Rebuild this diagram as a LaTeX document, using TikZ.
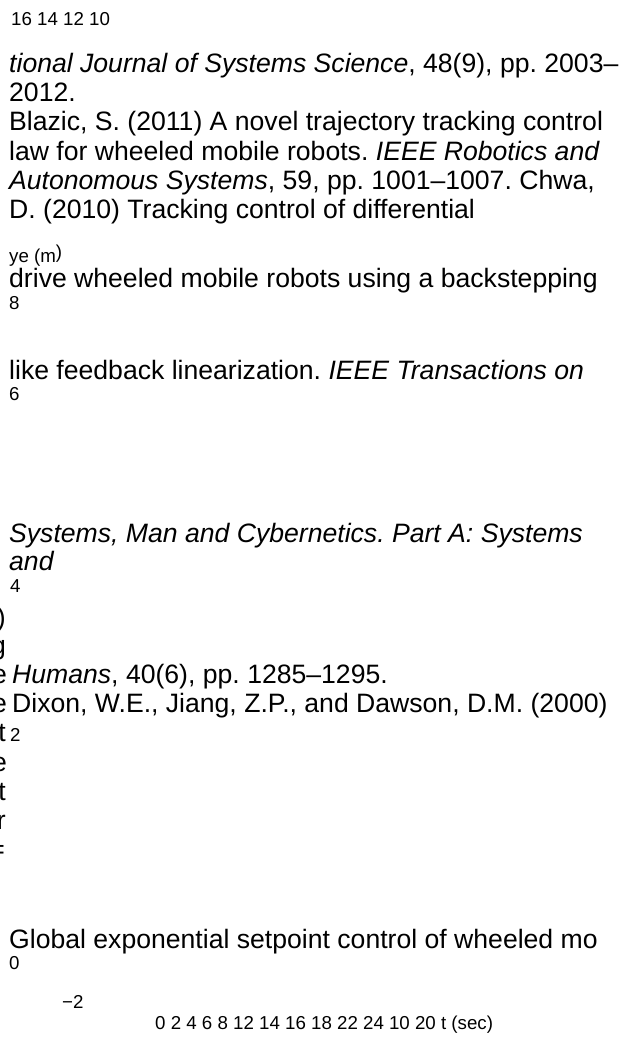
\documentclass[tikz,border=0pt]{standalone}
\usepackage{fontspec}
\setmainfont{Liberation Sans}
\frenchspacing
\begin{document}
\begin{tikzpicture}[x=1pt,y=-1pt,
  txt/.style={inner sep=0pt, anchor=base west, font=\fontsize{26.6}{30}\selectfont},
  sm/.style={inner sep=0pt, anchor=base west, font=\fontsize{18.7}{22}\selectfont},
  cut/.style={inner sep=0pt, anchor=base east, font=\fontsize{26.6}{30}\selectfont}]
\useasboundingbox (0,0) rectangle (620,1046);
\node[sm] (ytop) at (11,26) {16 14 12 10};
\node[txt] (l1) at (9,73) {\textit{tional Journal of Systems Science}, 48(9), pp. 2003--};
\node[txt] (l2) at (9,102) {2012.};
\node[txt] (l3) at (9,131) {Blazic, S. (2011) A novel trajectory tracking control};
\node[txt] (l4) at (9,160) {law for wheeled mobile robots. \textit{IEEE Robotics and}};
\node[txt] (l5) at (9,189) {\textit{Autonomous Systems}, 59, pp. 1001--1007. Chwa,};
\node[txt] (l6) at (9,218) {D. (2010) Tracking control of differential};
\node[sm] (ylab) at (9,262) {ye (m\raisebox{3.5pt}{)}};
\node[txt] (l7) at (9,287) {drive wheeled mobile robots using a backstepping};
\node[sm] (y8) at (9,309) {8};
\node[txt] (l8) at (9,379) {like feedback linearization. \textit{IEEE Transactions on}};
\node[sm] (y6) at (9,400) {6};
\node[txt] (l9) at (9,542) {\textit{Systems, Man and Cybernetics. Part A: Systems}};
\node[txt] (l10) at (9,570) {\textit{and}};
\node[sm] (y4) at (10,592) {4};
\node[cut] (c1) at (6,626) {)};
\node[cut] (c2) at (6,654) {g};
\node[cut] (c3) at (7,683) {e};
\node[txt] (l11) at (12,683) {\textit{Humans}, 40(6), pp. 1285--1295.};
\node[cut] (c4) at (7,712) {e};
\node[txt] (l12) at (12,712) {Dixon, W.E., Jiang, Z.P., and Dawson, D.M. (2000)};
\node[cut] (c5) at (6,741) {t};
\node[sm] (y2) at (10,741) {2};
\node[cut] (c6) at (7,771) {e};
\node[cut] (c7) at (6,800) {t};
\node[cut] (c8) at (6,829) {r};
\node[cut] (c9) at (5,858) {=};
\node[txt] (l13) at (9,948) {Global exponential setpoint control of wheeled mo};
\node[sm] (y0) at (9,969) {0};
\node[sm] (ym2) at (62,1008) {−2};
\node[sm] (xax) at (155,1029) {0 2 4 6 8 12 14 16 18 22 24 10 20 t (sec)};
\end{tikzpicture}
\end{document}
